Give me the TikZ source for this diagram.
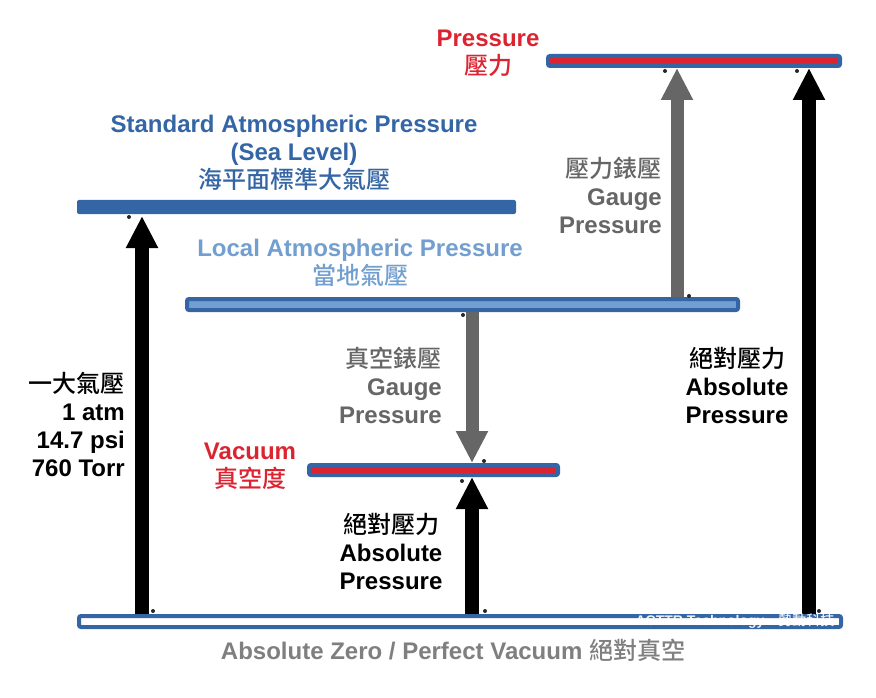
\documentclass[tikz,border=0pt]{standalone}
\usepackage{fontspec}
\setmainfont{Liberation Sans}
\newfontfamily\cjkfont{Noto Sans CJK TC Medium}
\newcommand{\zh}[1]{{\cjkfont\mdseries #1}}
\usetikzlibrary{arrows.meta}
\definecolor{barblue}{HTML}{3465A4}
\definecolor{lightblue}{HTML}{729FCF}
\definecolor{alertred}{HTML}{DC2430}
\definecolor{gaugegray}{HTML}{666666}
\definecolor{zerogray}{HTML}{7F7F7F}
\definecolor{ink}{HTML}{000000}
\tikzset{
  barnode/.style={
    draw=barblue,
    rounded corners=2pt,
    inner sep=0pt,
    line width=4pt
  },
  labeltext/.style={
    font=\fontsize{24}{28}\selectfont\bfseries,
    align=center,
    inner sep=0pt
  },
  blackarrow/.style={-{Triangle[length=32pt,width=30pt]},line width=14pt,draw=ink},
  grayarrow/.style={-{Triangle[length=32pt,width=30pt]},line width=13pt,draw=gaugegray},
  gluedot/.style={fill=ink!85}
}
\begin{document}
\begin{tikzpicture}[x=1pt,y=-1pt]
  \useasboundingbox (0,0) rectangle (876,698);
  % bars
  \node[barnode, fill=alertred, minimum width=292pt, minimum height=10pt] (press) at (694,61) {};
  \node[barnode, draw=none, fill=barblue, minimum width=439pt, minimum height=14pt] (std) at (296.5,207) {};
  \node[barnode, fill=lightblue, minimum width=551pt, minimum height=11pt] (local) at (462.5,304.5) {};
  \node[barnode, fill=alertred, minimum width=249pt, minimum height=10pt] (vac) at (433.5,470) {};
  \node[barnode, fill=white, minimum width=762pt, minimum height=11pt] (zero) at (460,621.5) {};
  % labels
  \node[labeltext, text=alertred] (presslbl) at (488,53) {Pressure\\\zh{壓力}};
  \node[labeltext, text=barblue] (stdlbl) at (294,153) {Standard Atmospheric Pressure\\(Sea Level)\\\zh{海平面標準大氣壓}};
  \node[labeltext, text=lightblue] (locallbl) at (360,263) {Local Atmospheric Pressure\\\zh{當地氣壓}};
  \node[labeltext, text=gaugegray, align=right, anchor=east] (gaugelbl) at (662,195) {\zh{壓力錶壓}\\Gauge\\Pressure};
  \node[labeltext, text=gaugegray, align=right, anchor=east] (vgaugelbl) at (442,385) {\zh{真空錶壓}\\Gauge\\Pressure};
  \node[labeltext, text=alertred] (vaclbl) at (250,466) {Vacuum\\\zh{真空度}};
  \node[labeltext, align=right, anchor=east] (atmlbl) at (125,424) {\zh{一大氣壓}\\1 atm\\14.7 psi\\760 Torr};
  \node[labeltext] (abslbl) at (391,551) {\zh{絕對壓力}\\Absolute\\Pressure};
  \node[labeltext] (absrlbl) at (737,385) {\zh{絕對壓力}\\Absolute\\Pressure};
  \node[labeltext, text=zerogray] (zerolbl) at (453,650) {Absolute Zero / Perfect Vacuum \zh{絕對真空}};
  % arrows
  \draw[blackarrow] (142,0 |- zero.north) -- (142,0 |- std.south);
  \draw[blackarrow] (472,0 |- zero.north) -- (472,0 |- vac.south);
  \draw[blackarrow] (809,0 |- zero.north) -- (809,0 |- press.south);
  \draw[grayarrow] (677,0 |- local.north) -- (677,0 |- press.south);
  \draw[grayarrow] (472,0 |- local.south) -- (472,0 |- vac.north);
  % glue points
  \foreach \gx/\gy in {129/217, 665/71, 797/71, 689/296, 463/315, 484/461, 462/481, 153/611, 485/611, 819/611}
    \fill[gluedot] (\gx,\gy) circle (2pt);
  % watermark
  \node[font=\fontsize{14}{16}\selectfont\bfseries, text=white, opacity=.9, anchor=east] (mark) at (838,621) {ACTTR Technology\quad\zh{勢動科技}};
\end{tikzpicture}
\end{document}
